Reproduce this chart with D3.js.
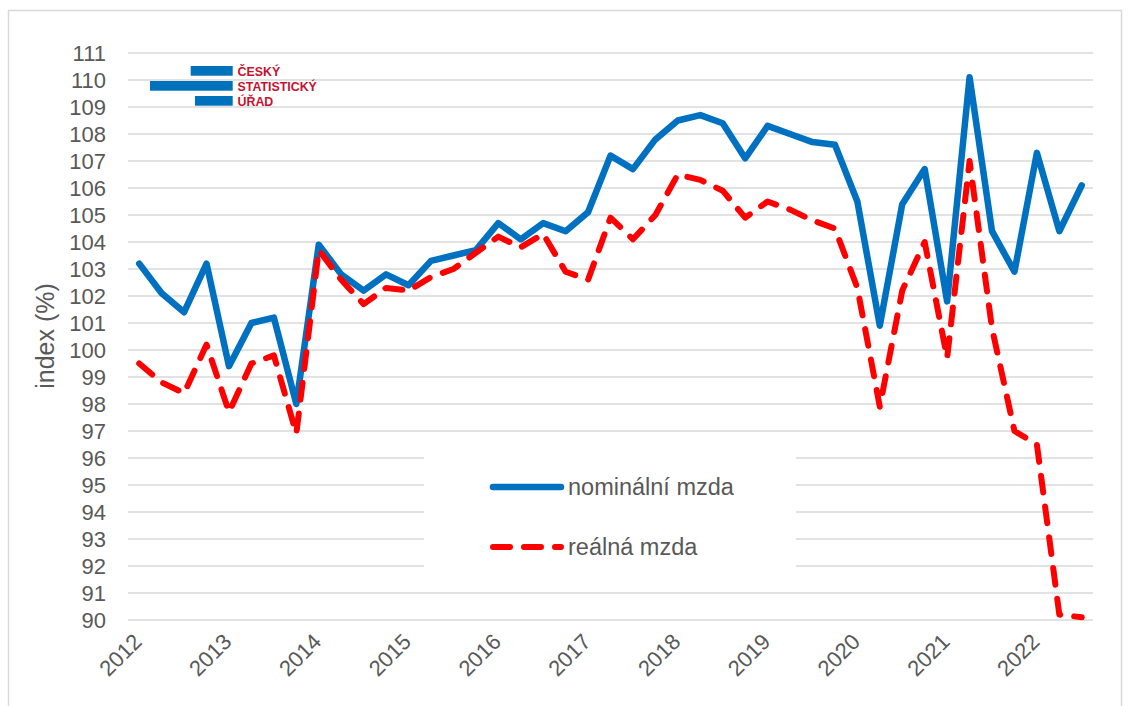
<!DOCTYPE html>
<html>
<head>
<meta charset="utf-8">
<script src="https://cdn.jsdelivr.net/npm/d3@7"></script>
<style>
  body { margin: 0; background: #fff; }
  text { font-family: "Liberation Sans", Arial, sans-serif; }
</style>
</head>
<body>
<div id="chart"></div>
<script>
// ctvrtleti 2012 Q1 - 2022 Q3
let periods = ['2012Q1','2012Q2','2012Q3','2012Q4','2013Q1','2013Q2','2013Q3','2013Q4',
  '2014Q1','2014Q2','2014Q3','2014Q4','2015Q1','2015Q2','2015Q3','2015Q4',
  '2016Q1','2016Q2','2016Q3','2016Q4','2017Q1','2017Q2','2017Q3','2017Q4',
  '2018Q1','2018Q2','2018Q3','2018Q4','2019Q1','2019Q2','2019Q3','2019Q4',
  '2020Q1','2020Q2','2020Q3','2020Q4','2021Q1','2021Q2','2021Q3','2021Q4',
  '2022Q1','2022Q2','2022Q3'];
let yearLabels = ['2012','2013','2014','2015','2016','2017','2018','2019','2020','2021','2022'];

// index (%) - nominalni a realna mzda
let nominal = [103.2,102.1,101.4,103.2,99.4,101.0,101.2,98.0,
  103.9,102.8,102.2,102.8,102.4,103.3,103.5,103.7,
  104.7,104.1,104.7,104.4,105.1,107.2,106.7,107.8,
  108.5,108.7,108.4,107.1,108.3,108.0,107.7,107.6,
  105.5,100.9,105.4,106.7,101.8,110.1,104.4,102.9,
  107.3,104.4,106.1];
let real = [99.5,98.8,98.4,100.2,97.7,99.5,99.8,96.9,
  103.7,102.6,101.7,102.3,102.2,102.7,103.0,103.6,
  104.2,103.8,104.3,102.9,102.6,104.9,104.1,105.0,
  106.5,106.3,105.9,104.9,105.5,105.2,104.8,104.5,
  102.3,97.9,102.2,104.0,99.7,107.0,100.8,97.0,
  96.5,90.2,90.1];

let yTicks = [90,91,92,93,94,95,96,97,98,99,100,101,102,103,104,105,106,107,108,109,110,111];
let legendNames = ['nominální mzda', 'reálná mzda'];
let logoLines = ['ČESKÝ', 'STATISTICKÝ', 'ÚŘAD'];

let width = 1132;
let height = 706;
let plotLeft = 128, plotRight = 1093, plotTop = 53, plotBottom = 620;

let svg = d3.select('#chart').append('svg').attr('width', width).attr('height', height);

// ramecek grafu
svg.append('rect')
   .attr('x', 8.5).attr('y', 10.5)
   .attr('width', 1113).attr('height', 720)
   .attr('fill', 'none').attr('stroke', '#d9d9d9').attr('stroke-width', 1.5);

let x = d3.scaleBand().domain(periods).range([plotLeft, plotRight]).padding(0);
let y = d3.scaleLinear().domain([90, 111]).range([plotBottom, plotTop]);
let cx = function (d, i) { return x(periods[i]) + x.bandwidth() / 2; };

// mrizka
svg.append('g').selectAll('line')
   .data(yTicks)
   .enter().append('line')
      .attr('x1', plotLeft).attr('x2', plotRight)
      .attr('y1', function (d) { return y(d); })
      .attr('y2', function (d) { return y(d); })
      .attr('stroke', '#d9d9d9').attr('stroke-width', 1.5);

// osa y
let yAxis = d3.axisLeft(y).tickValues(yTicks).tickSize(0).tickPadding(22);
let gy = svg.append('g').attr('transform', 'translate(' + plotLeft + ',0)').call(yAxis);
gy.select('.domain').remove();
gy.selectAll('text').attr('font-size', 22).attr('fill', '#595959').style('font-family', '"Liberation Sans", Arial, sans-serif');

// osa x - jen prvni ctvrtleti
let firstQ = periods.filter(function (p) { return p.slice(4) == 'Q1'; });
let xAxis = d3.axisBottom(x).tickValues(firstQ).tickSize(0)
              .tickFormat(function (d, i) { return yearLabels[i]; });
let gx = svg.append('g').attr('transform', 'translate(0,' + plotBottom + ')').call(xAxis);
gx.select('.domain').remove();
gx.selectAll('text')
  .attr('font-size', 22).attr('fill', '#595959')
  .style('font-family', '"Liberation Sans", Arial, sans-serif')
  .attr('text-anchor', 'end')
  .attr('x', 0).attr('y', 0).attr('dy', null)
  .attr('transform', 'translate(4,23) rotate(-45)');

// popisek osy y
svg.append('text')
   .attr('transform', 'translate(54,336) rotate(-90)')
   .attr('text-anchor', 'middle')
   .attr('font-size', 25).attr('fill', '#595959')
   .text('index (%)');

// legenda
let leg = svg.append('g');
leg.append('rect').attr('x', 424).attr('y', 442).attr('width', 372).attr('height', 136).attr('fill', '#fff');
leg.append('line').attr('x1', 493).attr('x2', 561).attr('y1', 487).attr('y2', 487)
   .attr('stroke', '#0070c0').attr('stroke-width', 6.5).attr('stroke-linecap', 'round');
leg.append('line').attr('x1', 493).attr('x2', 561).attr('y1', 547).attr('y2', 547)
   .attr('stroke', '#ff0000').attr('stroke-width', 6).attr('stroke-linecap', 'round')
   .attr('stroke-dasharray', '17 14');
leg.selectAll('text.legtext')
   .data(legendNames)
   .enter().append('text')
      .attr('class', 'legtext')
      .attr('x', 568)
      .attr('y', function (d, i) { return 487 + i * 60; })
      .attr('dy', '0.36em')
      .attr('font-size', 23.5).attr('fill', '#595959')
      .text(function (d) { return d; });

// krivky
let line = d3.line().x(cx).y(function (d) { return y(d); });

svg.append('path')
   .attr('fill', 'none')
   .attr('stroke', '#0070c0')
   .attr('stroke-width', 6.5)
   .attr('stroke-linejoin', 'round')
   .attr('stroke-linecap', 'round')
   .attr('d', line(nominal));

svg.append('path')
   .attr('fill', 'none')
   .attr('stroke', '#ff0000')
   .attr('stroke-width', 6)
   .attr('stroke-linejoin', 'round')
   .attr('stroke-linecap', 'round')
   .attr('stroke-dasharray', '17 14')
   .attr('d', line(real));

// logo CSU
let logo = svg.append('g');
let bars = [[190.7, 66], [150, 81], [195, 96]];
logo.selectAll('rect')
    .data(bars)
    .enter().append('rect')
       .attr('x', function (d) { return d[0]; })
       .attr('y', function (d) { return d[1]; })
       .attr('width', function (d) { return 232.7 - d[0]; })
       .attr('height', 9.7)
       .attr('fill', '#0071bb');
logo.selectAll('text')
    .data(logoLines)
    .enter().append('text')
       .attr('x', 237.5)
       .attr('y', function (d, i) { return 75.5 + i * 15; })
       .attr('font-size', 12.4).attr('font-weight', 'bold')
       .attr('fill', '#c8102e')
       .text(function (d) { return d; });
</script>
</body>
</html>
